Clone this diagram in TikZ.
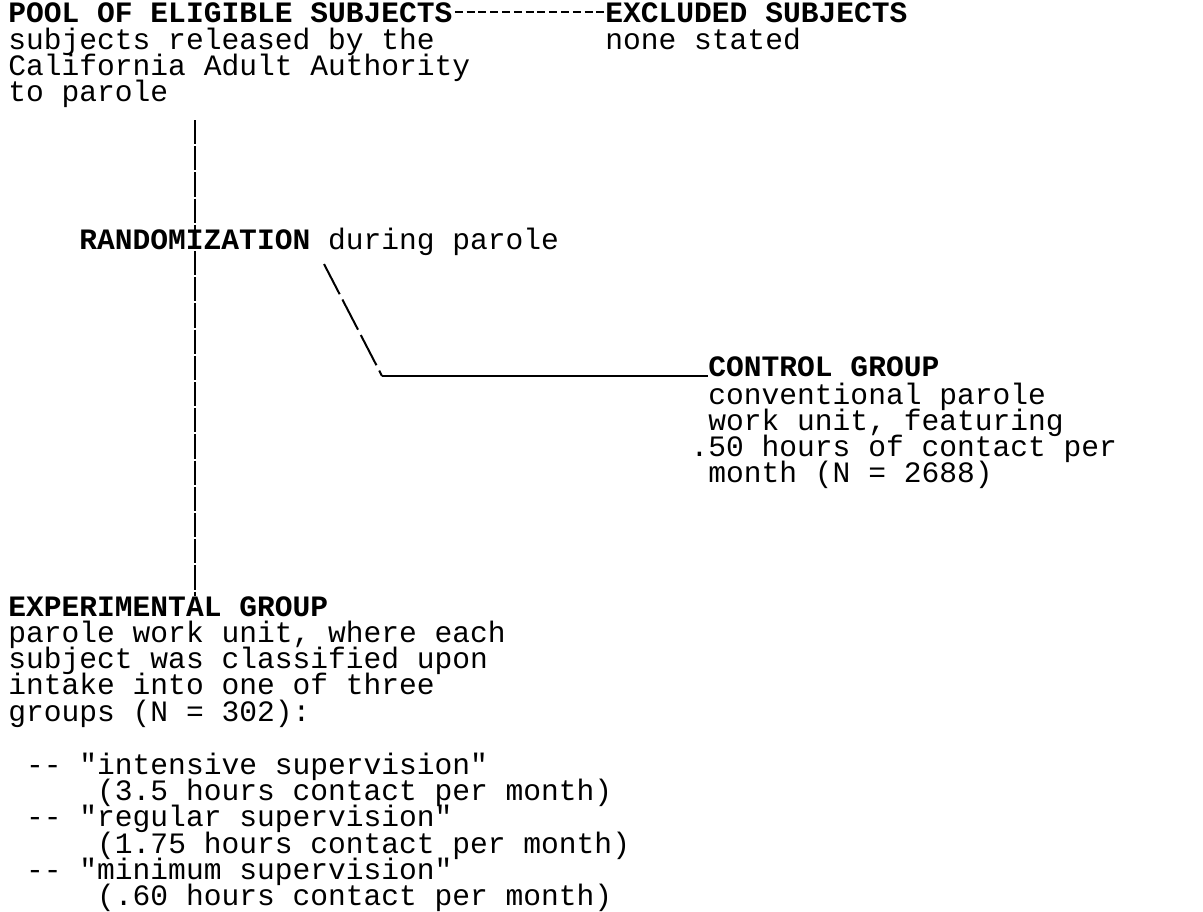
\documentclass[tikz,border=0pt]{standalone}
\usepackage{fontspec}
\setmonofont{Liberation Mono}
\newcommand{\typefont}{\ttfamily\fontsize{14.8pt}{13.1pt}\selectfont
  \lineskiplimit -20pt\relax}

\begin{document}
\begin{tikzpicture}[
  x=0.5pt, y=-0.5pt,
  txt/.style={align=left, inner sep=0pt, anchor=base west, font=\typefont},
  head/.style={txt, font=\typefont\bfseries},
  link/.style={line width=1pt}
]
\useasboundingbox (0,0) rectangle (1203,911);
% the pool and the excluded subjects (multi-line texts sit on their last line)
\node[head] (pool) at (8,22) {POOL OF ELIGIBLE SUBJECTS};
\node[txt] (pooltxt) at (8,101.6)
  {subjects released by the\\California Adult Authority\\to parole};
\node[head] (excl) at (605,22) {EXCLUDED SUBJECTS};
\node[txt] (excltxt) at (605,49.2) {none stated};
\draw[link, dash pattern=on 4pt off 1.9pt, shorten <=1pt] (pool.east) -- (excl.west);
% randomization
\node[txt] (rand) at (79,249) {\textbf{RANDOMIZATION} during parole};
% the control group
\node[head] (ctrl) at (708,376) {CONTROL GROUP};
\node[txt] (ctrltxt) at (708,482.8)
  {conventional parole\\work unit, featuring\\\llap{.}50 hours of contact per\\month (N = 2688)};
% the experimental group
\node[head] (exp) at (8,616) {EXPERIMENTAL GROUP};
\node[txt] (exptxt) at (8,721)
  {parole work unit, where each\\subject was classified upon\\intake into one of three\\groups (N = 302):};
\node[txt] (levels) at (8,905.5)
  {\phantom{x}-- "intensive supervision"\\
   \phantom{xxxxx}(3.5 hours contact per month)\\
   \phantom{x}-- "regular supervision"\\
   \phantom{xxxxx}(1.75 hours contact per month)\\
   \phantom{x}-- "minimum supervision"\\
   \phantom{xxxxx}(.60 hours contact per month)};
% the typed connectors
\coordinate (vtop) at (195,120);
\draw[link, dash pattern=on 12.1pt off 1pt] (vtop) -- (vtop |- exp.north);
\coordinate (dtop) at (324,264);
\coordinate (bend) at (382,0);
\draw[link, dash pattern=on 17pt off 3pt] (dtop) -- (bend |- ctrl.base);
\draw[link] (bend |- ctrl.base) -- (ctrl.base west);
\end{tikzpicture}
\end{document}
